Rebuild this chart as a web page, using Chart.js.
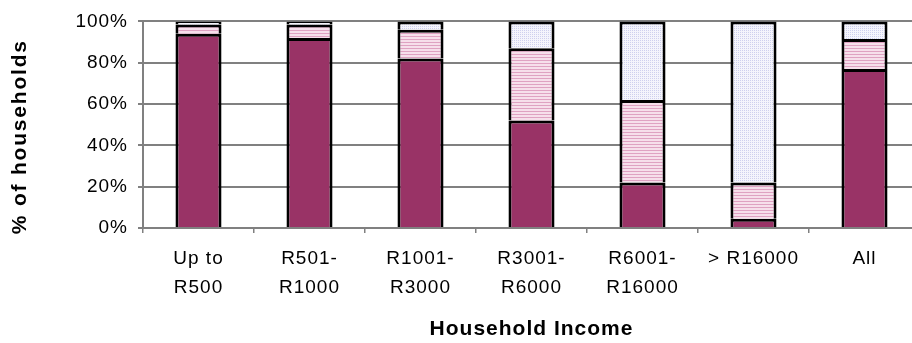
<!DOCTYPE html>
<html>
<head>
<meta charset="utf-8">
<script src="https://cdn.jsdelivr.net/npm/chart.js@4"></script>
<style>
  html, body { margin: 0; padding: 0; background: #fff; overflow: hidden; }
  .wrap { width: 922px; height: 343px; position: relative; }
</style>
</head>
<body>
<div class="wrap"><canvas id="chart"></canvas></div>
<script>
const categories = [['Up to', 'R500'], ['R501-', 'R1000'], ['R1001-', 'R3000'], ['R3001-', 'R6000'], ['R6001-', 'R16000'], '> R16000', 'All'];
const lowShare = [94, 92, 82, 52, 22, 4.5, 77];
const midShare = [4.5, 6.5, 14, 35, 40, 17.5, 14.5];
const highShare = [1.5, 1.5, 4, 13, 38, 78, 8.5];
const yTicks = [0, 20, 40, 60, 80, 100];
const yTitle = '% of households';

const FONT = 'Liberation Sans, Arial, sans-serif';

// small tiled fills for the two lighter segments
function makePattern(w, h, bg, fg, cells) {
  const c = document.createElement('canvas');
  c.width = w; c.height = h;
  const g = c.getContext('2d');
  g.fillStyle = bg;
  g.fillRect(0, 0, w, h);
  g.fillStyle = fg;
  cells.forEach(([x, y, cw, ch]) => g.fillRect(x, y, cw, ch));
  return g.createPattern(c, 'repeat');
}

// slightly loose text spacing, like the old office charts
const spacing = {
  id: 'spacing',
  beforeLayout: (chart) => { chart.ctx.letterSpacing = '1px'; },
  beforeDraw: (chart) => { chart.ctx.letterSpacing = '1px'; }
};

// y title sits a bit below the plot's middle, so draw it by hand
const sideTitle = {
  id: 'sideTitle',
  afterDraw: (chart) => {
    const c = chart.ctx;
    const area = chart.chartArea;
    c.save();
    c.letterSpacing = '1.8px';
    c.font = 'bold 21px ' + FONT;
    c.fillStyle = '#000';
    c.textAlign = 'center';
    c.textBaseline = 'middle';
    c.translate(20, (area.top + area.bottom) / 2 + 12);
    c.rotate(-Math.PI / 2);
    c.fillText(yTitle, 0, 0);
    c.restore();
  }
};

const ctx = document.getElementById('chart').getContext('2d');
const stripes = makePattern(4, 3, '#f6dfeb', '#dfa2c2', [[0, 0, 4, 1]]);
const dots = makePattern(2, 2, '#f5f5fc', '#cfd0ee', [[0, 0, 1, 1]]);

const ds = (data, bg) => ({
  data: data,
  backgroundColor: bg,
  borderColor: '#000',
  borderWidth: 3,
  categoryPercentage: 1,
  barPercentage: 0.415
});

new Chart(ctx, {
  type: 'bar',
  data: {
    labels: categories,
    datasets: [ds(lowShare, '#993366'), ds(midShare, stripes), ds(highShare, dots)]
  },
  plugins: [spacing, sideTitle],
  options: {
    responsive: true,
    maintainAspectRatio: false,
    animation: false,
    layout: { padding: { top: 20, right: 2, left: 0, bottom: 0 } },
    plugins: { legend: { display: false }, tooltip: { enabled: false } },
    scales: {
      x: {
        stacked: true,
        afterFit: (s) => { s.height = 115; },
        grid: { drawOnChartArea: false, tickLength: 5, color: '#808080', lineWidth: 1.5 },
        border: { color: '#808080', width: 2 },
        ticks: {
          color: '#000', padding: 12, maxRotation: 0, autoSkip: false,
          font: { family: FONT, size: 19, lineHeight: 1.5 }
        },
        title: {
          display: true, text: 'Household Income', color: '#000',
          font: { family: FONT, size: 21, weight: 'bold' },
          padding: { top: 0, bottom: 1 }
        }
      },
      y: {
        stacked: true,
        min: 0, max: 100,
        afterFit: (s) => { s.width = 143; },
        afterBuildTicks: (s) => { s.ticks = yTicks.map(v => ({ value: v })); },
        grid: { color: '#808080', lineWidth: 2, tickLength: 5 },
        border: { color: '#808080', width: 2 },
        ticks: {
          color: '#000', padding: 10,
          callback: (v) => v + '%',
          font: { family: FONT, size: 19 }
        }
      }
    }
  }
});
</script>
</body>
</html>
